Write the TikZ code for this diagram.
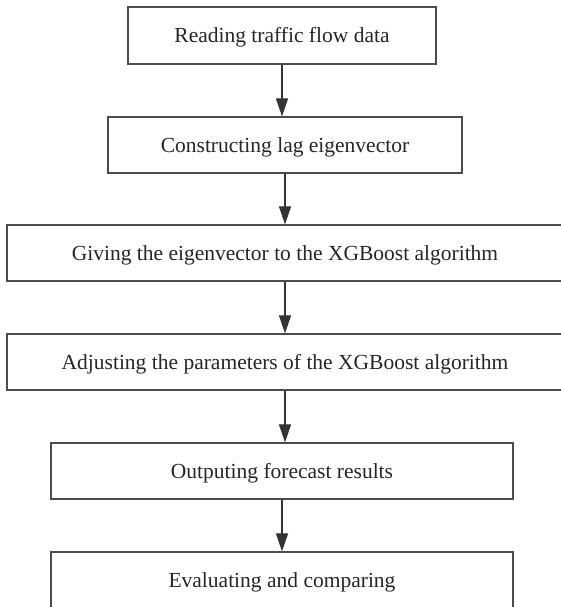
\documentclass[tikz,border=0pt]{standalone}
\usepackage{fontspec}
\setmainfont{Liberation Serif}
\usetikzlibrary{arrows.meta}
\begin{document}
\begin{tikzpicture}[x=1pt,y=-1pt,
  stepbox/.style={draw=black!70, line width=1.2pt, fill=white, inner sep=0pt,
    minimum height=56pt, text height=14pt, text depth=0pt,
    font=\fontsize{21.5}{25}\selectfont, text=black!85},
  flow/.style={draw=black!80, line width=1.1pt, -{Triangle[length=18pt,width=12pt]}}]
  \useasboundingbox (0,0) rectangle (561,607);
  \clip (0,0) rectangle (561,607);
  \fill[white] (0,0) rectangle (561,607);
  \node[stepbox, minimum width=308pt, minimum height=57pt] (b1) at (282,35.5) {Reading traffic flow data};
  \node[stepbox, minimum width=354pt] (b2) at (285,145) {Constructing lag eigenvector};
  \node[stepbox, minimum width=556pt] (b3) at (285,253) {Giving the eigenvector to the XGBoost algorithm};
  \node[stepbox, minimum width=556pt] (b4) at (285,362) {Adjusting the parameters of the XGBoost algorithm};
  \node[stepbox, minimum width=462pt] (b5) at (282,471) {Outputing forecast results};
  \node[stepbox, minimum width=462pt] (b6) at (282,580) {Evaluating and comparing};
  \draw[flow] (b1.south) -- (b1.south |- b2.north);
  \draw[flow] (b2.south) -- (b2.south |- b3.north);
  \draw[flow] (b3.south) -- (b3.south |- b4.north);
  \draw[flow] (b4.south) -- (b4.south |- b5.north);
  \draw[flow] (b5.south) -- (b5.south |- b6.north);
\end{tikzpicture}
\end{document}
